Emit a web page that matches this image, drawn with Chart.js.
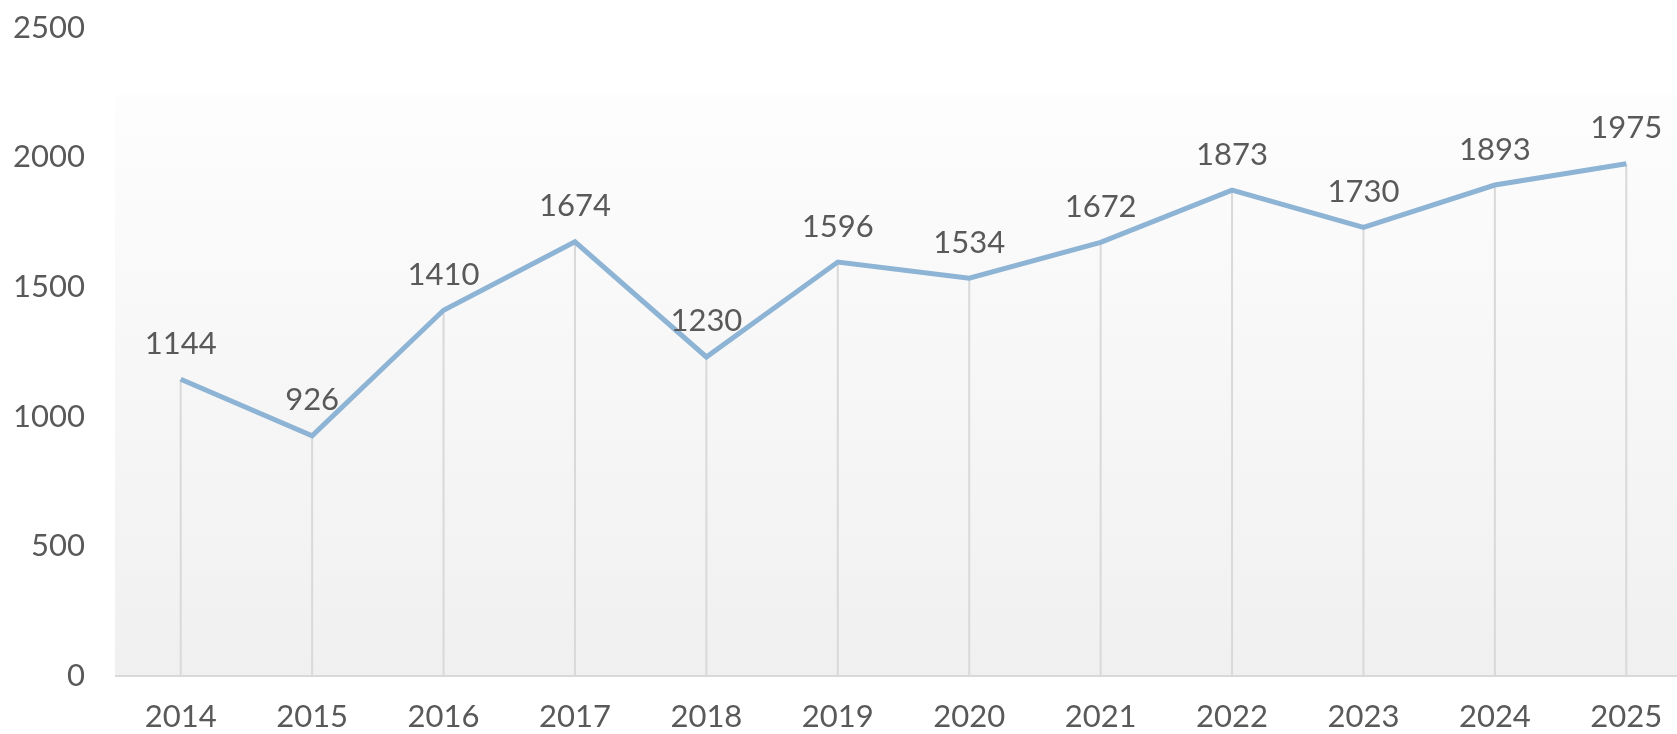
<!DOCTYPE html>
<html>
<head>
<meta charset="utf-8">
<script src="https://cdn.jsdelivr.net/npm/chart.js@4"></script>
<style>
    html, body { margin: 0; padding: 0; background: #fff; overflow: hidden; }
    #wrap { width: 1692px; height: 755px; margin-top: -21px; position: relative; }
</style>
</head>
<body>
<div id="wrap"><canvas id="lineChart"></canvas></div>
<script>
const years = ['2014', '2015', '2016', '2017', '2018', '2019', '2020', '2021', '2022', '2023', '2024', '2025'];
const values = [1144, 926, 1410, 1674, 1230, 1596, 1534, 1672, 1873, 1730, 1893, 1975];
const yTicks = [0, 500, 1000, 1500, 2000, 2500];

const textColor = '#595959';
const fontFamily = 'Lato, "Open Sans", sans-serif';

// gradient fill behind the plot area
const plotBackground = {
    id: 'plotBackground',
    beforeDraw(chart) {
        const { ctx, chartArea } = chart;
        const y = chart.scales.y;
        const top = y.getPixelForValue(2240);
        const grad = ctx.createLinearGradient(0, top, 0, chartArea.bottom);
        grad.addColorStop(0, '#fdfdfd');
        grad.addColorStop(1, '#f0f0f0');
        ctx.save();
        ctx.fillStyle = grad;
        ctx.fillRect(chartArea.left, top, chartArea.right - chartArea.left, chartArea.bottom - top);
        ctx.restore();
    }
};

// drop lines from each point down to the axis
const dropLines = {
    id: 'dropLines',
    beforeDatasetsDraw(chart) {
        const { ctx } = chart;
        const x = chart.scales.x, y = chart.scales.y;
        ctx.save();
        ctx.strokeStyle = '#d9d9d9';
        ctx.lineWidth = 2;
        values.forEach((v, i) => {
            const px = x.getPixelForValue(i);
            ctx.beginPath();
            ctx.moveTo(px, y.getPixelForValue(v));
            ctx.lineTo(px, y.getPixelForValue(0));
            ctx.stroke();
        });
        // category axis line
        ctx.beginPath();
        ctx.moveTo(chart.chartArea.left, y.getPixelForValue(0));
        ctx.lineTo(chart.chartArea.right, y.getPixelForValue(0));
        ctx.stroke();
        ctx.restore();
    }
};

// value labels above the points
const valueLabels = {
    id: 'valueLabels',
    afterDatasetsDraw(chart) {
        const { ctx } = chart;
        const meta = chart.getDatasetMeta(0);
        ctx.save();
        ctx.fillStyle = textColor;
        ctx.font = `31px ${fontFamily}`;
        ctx.textAlign = 'center';
        ctx.textBaseline = 'bottom';
        meta.data.forEach((pt, i) => {
            ctx.fillText(String(values[i]), pt.x, pt.y - 20);
        });
        ctx.restore();
    }
};

new Chart(document.getElementById('lineChart'), {
    type: 'line',
    data: {
        labels: years,
        datasets: [{
            data: values,
            borderColor: '#8db3d5',
            borderWidth: 5,
            pointRadius: 0,
            tension: 0,
            fill: false
        }]
    },
    options: {
        responsive: true,
        maintainAspectRatio: false,
        animation: false,
        plugins: {
            legend: { display: false },
            tooltip: { enabled: false }
        },
        scales: {
            x: {
                offset: true,
                grid: { display: false, drawTicks: false },
                border: { display: false },
                ticks: {
                    color: textColor,
                    font: { family: fontFamily, size: 31 },
                    padding: 22,
                    maxRotation: 0
                },
                afterFit(scale) { scale.height = 58; }
            },
            y: {
                min: 0,
                max: 2500,
                afterBuildTicks(scale) { scale.ticks = yTicks.map(v => ({ value: v })); },
                grid: { display: false, drawTicks: false },
                border: { display: false },
                ticks: {
                    color: textColor,
                    font: { family: fontFamily, size: 31 },
                    padding: 30,
                    callback: v => String(v)
                },
                afterFit(scale) { scale.width = 115; }
            }
        }
    },
    plugins: [plotBackground, dropLines, valueLabels]
});
</script>
</body>
</html>
